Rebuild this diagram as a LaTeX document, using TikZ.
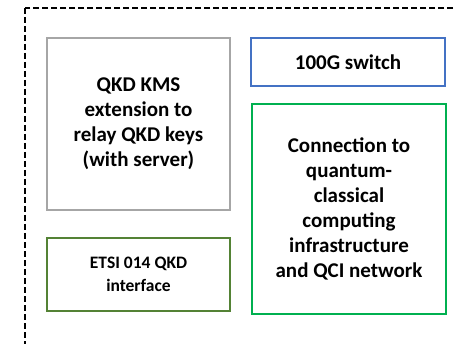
\documentclass[tikz,border=0pt]{standalone}
\usepackage{fontspec}
\setmainfont{Carlito}
\usetikzlibrary{positioning}
\definecolor{boxgray}{HTML}{A6A6A6}
\definecolor{boxblue}{HTML}{4472C4}
\definecolor{boxgreen}{HTML}{00B050}
\definecolor{boxolive}{HTML}{548235}
\tikzset{
  % Blocchi del nodo
  block/.style={draw,line width=1.6pt,align=center,inner sep=0pt,
    font=\fontsize{21}{25}\selectfont\bfseries},
  block kms/.style={block,draw=boxgray,minimum width=183pt,minimum height=172pt},
  block switch/.style={block,draw=boxblue,minimum width=194pt,minimum height=48pt},
  block qci/.style={block,draw=boxgreen,minimum width=194pt,minimum height=210pt},
  block etsi/.style={block,draw=boxolive,minimum width=183pt,minimum height=73pt,
    font=\fontsize{17.5}{23}\selectfont\bfseries},
  frame/.style={line width=1.6pt,dash pattern=on 6pt off 3pt}
}
\begin{document}
\begin{tikzpicture}[x=1pt,y=-1pt]
  \useasboundingbox (0,0) rectangle (454,344);
  \clip (0,0) rectangle (454,344);
  % cornice tratteggiata
  \draw[frame] (25,8) rectangle (480,370);
  \node[block kms] (kms) at (138.5,124) {QKD KMS\\extension to\\relay QKD keys\\(with server)};
  \node[block switch] (switch) at (348,62) {100G switch};
  \node[block qci] (qci) at (349,209) {Connection to\\quantum-\\classical\\computing\\infrastructure\\and QCI network};
  \node[block etsi] (etsi) at (138.5,274.5) {ETSI 014 QKD\\interface};
\end{tikzpicture}
\end{document}
